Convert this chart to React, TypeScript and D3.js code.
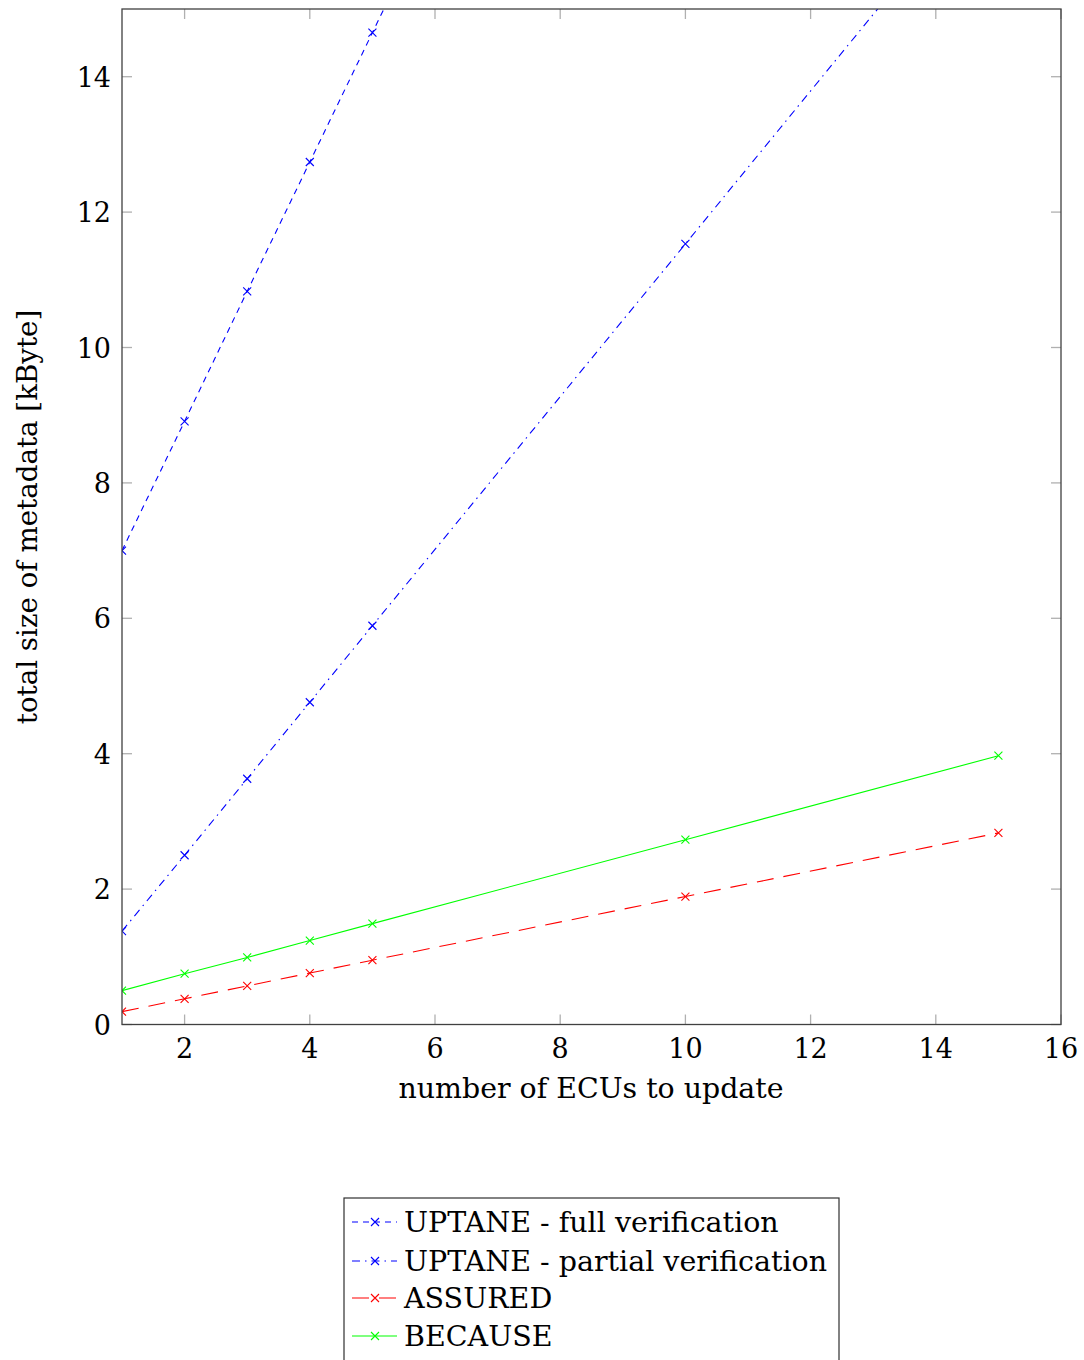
import React from "react";
import * as d3 from "d3";

const ecus = [1, 2, 3, 4, 5, 10, 15];
const uptaneFull = [7.0, 8.91, 10.83, 12.74, 14.65, 24.2, 33.8];
const uptanePartial = [1.38, 2.5, 3.63, 4.76, 5.89, 11.53, 17.18];
const assured = [0.19, 0.38, 0.57, 0.76, 0.95, 1.89, 2.83];
const because = [0.5, 0.75, 0.99, 1.24, 1.49, 2.73, 3.97];

const xTicks = [2, 4, 6, 8, 10, 12, 14, 16];
const yTicks = [0, 2, 4, 6, 8, 10, 12, 14];

const seriesNames = [
  "UPTANE - full verification",
  "UPTANE - partial verification",
  "ASSURED",
  "BECAUSE",
];
const seriesColors = ["#0000ff", "#0000ff", "#ff0000", "#00ff00"];
const seriesDash = ["6,5", "8,5,1.5,5", "17,10", null];
const seriesData = [uptaneFull, uptanePartial, assured, because];

const FONT = "'DejaVu Serif', serif";

export default function App() {
  const left = 122, right = 1061, top = 9, bottom = 1024.5;
  const x = d3.scaleLinear().domain([1, 16]).range([left, right]);
  const y = d3.scaleLinear().domain([0, 15]).range([bottom, top]);
  const line = d3
    .line<[number, number]>()
    .x((d) => x(d[0]))
    .y((d) => y(d[1]));

  const cross = (cx: number, cy: number, color: string, key: string) => (
    <path
      key={key}
      d={`M${cx - 4},${cy - 4}L${cx + 4},${cy + 4}M${cx - 4},${cy + 4}L${cx + 4},${cy - 4}`}
      stroke={color}
      strokeWidth={1.1}
      fill="none"
    />
  );

  const tickColor = "#b0b0b0";
  const legendRows = [1222, 1261, 1298, 1336];

  return (
    <svg
      width={1084}
      height={1360}
      style={{ position: "absolute", left: 0, top: 0, background: "#fff" }}
      fontFamily={FONT}
    >
      <defs>
        <clipPath id="plotclip">
          <rect x={left} y={top} width={right - left} height={bottom - top} />
        </clipPath>
      </defs>
      <rect width={1084} height={1360} fill="#fff" />
      {xTicks.map((t) => (
        <g key={"xt" + t}>
          <line x1={x(t)} x2={x(t)} y1={bottom} y2={bottom - 10} stroke={tickColor} strokeWidth={1.3} />
          <line x1={x(t)} x2={x(t)} y1={top} y2={top + 10} stroke={tickColor} strokeWidth={1.3} />
          <text x={x(t)} y={bottom + 33} textAnchor="middle" fontSize={27}>
            {t}
          </text>
        </g>
      ))}
      {yTicks.map((t) => (
        <g key={"yt" + t}>
          <line x1={left} x2={left + 10} y1={y(t)} y2={y(t)} stroke={tickColor} strokeWidth={1.3} />
          <line x1={right} x2={right - 10} y1={y(t)} y2={y(t)} stroke={tickColor} strokeWidth={1.3} />
          <text x={111} y={y(t) + 10} textAnchor="end" fontSize={27}>
            {t}
          </text>
        </g>
      ))}
      <g clipPath="url(#plotclip)">
        {seriesData.map((vals, i) => {
          const pts: [number, number][] = ecus.map((e, j) => [e, vals[j]]);
          return (
            <g key={"s" + i}>
              <path
                d={line(pts) || ""}
                fill="none"
                stroke={seriesColors[i]}
                strokeWidth={1.1}
                strokeDasharray={seriesDash[i] || undefined}
              />
              {pts.map((p, j) => cross(x(p[0]), y(p[1]), seriesColors[i], `m${i}-${j}`))}
            </g>
          );
        })}
      </g>
      <rect x={left} y={top} width={right - left} height={bottom - top} fill="none" stroke="#404040" strokeWidth={1.3} />
      <text x={591} y={1098} textAnchor="middle" fontSize={28.4}>
        number of ECUs to update
      </text>
      <text transform={`translate(37,517) rotate(-90)`} textAnchor="middle" fontSize={27.7}>
        total size of metadata [kByte]
      </text>
      <rect x={344} y={1198} width={495} height={170} fill="#fff" stroke="#303030" strokeWidth={1.2} />
      {seriesNames.map((name, i) => {
        const cy = legendRows[i];
        return (
          <g key={"lg" + i}>
            <line
              x1={352}
              x2={397}
              y1={cy}
              y2={cy}
              stroke={seriesColors[i]}
              strokeWidth={1.1}
              strokeDasharray={seriesDash[i] || undefined}
            />
            {cross(375, cy, seriesColors[i], "lm" + i)}
            <text x={404} y={cy + 10} fontSize={28.5}>
              {name}
            </text>
          </g>
        );
      })}
    </svg>
  );
}
